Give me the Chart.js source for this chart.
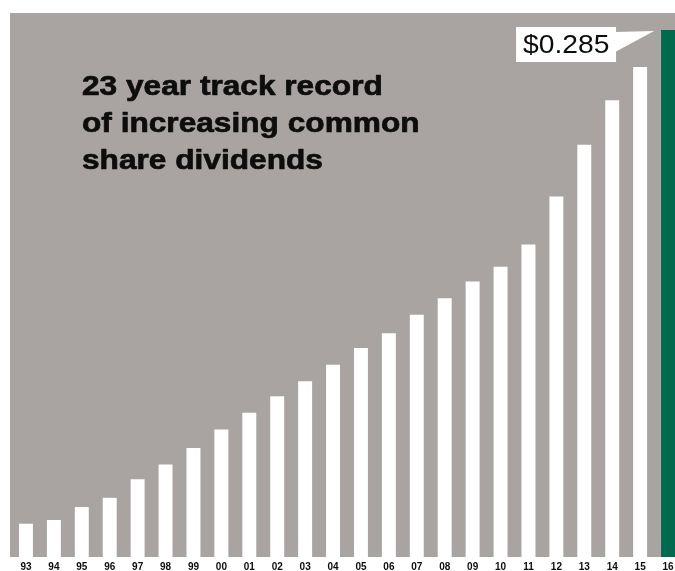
<!DOCTYPE html>
<html>
<head>
<meta charset="utf-8">
<script src="https://cdn.jsdelivr.net/npm/chart.js@4.4.1/dist/chart.umd.min.js"></script>
<style>
  html, body { margin: 0; padding: 0; background: #fff; overflow: hidden; width: 675px; height: 571px; }
  #dividends { position: absolute; left: 0; top: 0; }
</style>
</head>
<body>
<canvas id="dividends" width="690" height="578"></canvas>
<script>
// Annual common share dividend, 1993 - 2016
const years = ['93', '94', '95', '96', '97', '98', '99', '00', '01', '02', '03', '04',
               '05', '06', '07', '08', '09', '10', '11', '12', '13', '14', '15', '16'];
const dividends = [0.018, 0.020, 0.027, 0.032, 0.042, 0.050, 0.059, 0.069, 0.078, 0.087, 0.095, 0.104,
                   0.113, 0.121, 0.131, 0.140, 0.149, 0.157, 0.169, 0.195, 0.223, 0.247, 0.265, 0.285];
const titleLines = ['23 year track record', 'of increasing common', 'share dividends'];

const PANEL_GREY = '#a9a4a1';
const LATEST_GREEN = '#006a4f';
const INK = '#0d0d0d';

const barColors = dividends.map((v, i) => i === dividends.length - 1 ? LATEST_GREEN : '#ffffff');

// grey panel behind the bars
const panelPlugin = {
    id: 'panel',
    beforeDatasetsDraw(chart) {
        const { ctx, chartArea } = chart;
        ctx.save();
        ctx.fillStyle = PANEL_GREY;
        ctx.fillRect(chartArea.left - 2, chartArea.top, chart.width, chartArea.bottom - chartArea.top);
        ctx.restore();
    }
};

// headline text + callout on the latest bar
const annotationPlugin = {
    id: 'annotations',
    afterDatasetsDraw(chart) {
        const { ctx, chartArea } = chart;
        ctx.save();
        ctx.fillStyle = INK;
        ctx.strokeStyle = INK;
        ctx.lineWidth = 0.7;
        ctx.lineJoin = 'round';
        ctx.textBaseline = 'alphabetic';
        ctx.font = 'bold 28px "Liberation Sans", Arial, sans-serif';
        titleLines.forEach((line, i) => {
            ctx.save();
            ctx.translate(chartArea.left + 70, chartArea.top + 82 + i * 37);
            ctx.scale(1.13, 1);
            ctx.fillText(line, 0, 0);
            ctx.strokeText(line, 0, 0);
            ctx.restore();
        });

        const meta = chart.getDatasetMeta(0);
        const last = meta.data[meta.data.length - 1];
        const barLeft = last.x - last.width / 2;
        const boxRight = barLeft - 45;
        const boxLeft = boxRight - 100;
        const boxTop = last.y - 3;

        ctx.fillStyle = '#ffffff';
        ctx.fillRect(boxLeft, boxTop, 100, 35);
        ctx.beginPath();
        ctx.moveTo(boxRight - 1, boxTop + 5);
        ctx.lineTo(barLeft - 7, last.y + 1);
        ctx.lineTo(boxRight - 1, boxTop + 25);
        ctx.closePath();
        ctx.fill();

        ctx.fillStyle = INK;
        ctx.font = '25px "Liberation Sans", Arial, sans-serif';
        ctx.translate(boxLeft + 7, boxTop + 26);
        ctx.scale(1.13, 1);
        ctx.fillText('$' + dividends[dividends.length - 1].toFixed(3), 0, 0);
        ctx.restore();
    }
};

const ctx = document.getElementById('dividends').getContext('2d');
const chart = new Chart(ctx, {
    type: 'bar',
    data: {
        labels: years,
        datasets: [{
            data: dividends,
            backgroundColor: barColors,
            borderWidth: 0,
            categoryPercentage: 1,
            barPercentage: 0.5
        }]
    },
    options: {
        responsive: false,
        animation: false,
        devicePixelRatio: 1,
        layout: { padding: { left: 12, right: 8, top: 13, bottom: 0 } },
        plugins: {
            legend: { display: false },
            tooltip: { enabled: false }
        },
        scales: {
            x: {
                grid: { display: false, drawTicks: false },
                border: { display: false },
                ticks: {
                    color: INK,
                    padding: 5.5,
                    maxRotation: 0,
                    autoSkip: false,
                    font: { family: '"Liberation Sans", Arial, sans-serif', size: 10, weight: 'bold', lineHeight: 1 }
                }
            },
            y: {
                display: false,
                min: 0,
                max: 0.2942
            }
        }
    },
    plugins: [panelPlugin, annotationPlugin]
});
</script>
</body>
</html>
